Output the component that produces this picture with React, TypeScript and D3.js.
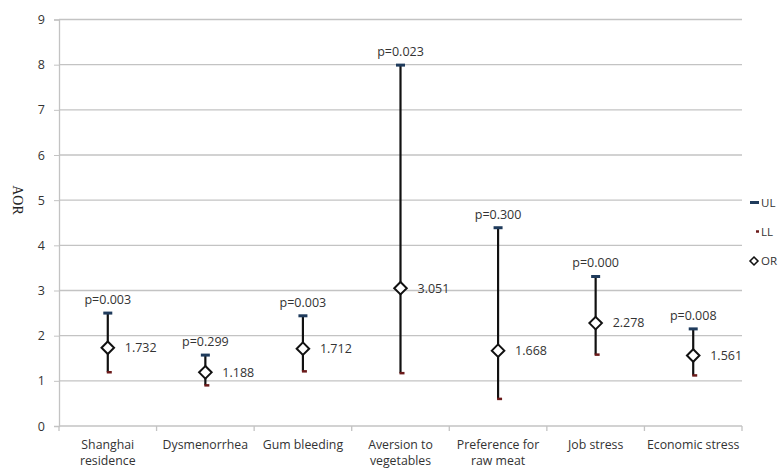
import * as d3 from "d3";
import React, { useRef, useEffect } from "react";

const categories = [
  ["Shanghai", "residence"],
  ["Dysmenorrhea"],
  ["Gum bleeding"],
  ["Aversion to", "vegetables"],
  ["Preference for", "raw meat"],
  ["Job stress"],
  ["Economic stress"],
];
const orValues = [1.732, 1.188, 1.712, 3.051, 1.668, 2.278, 1.561];
const upperLimits = [2.5, 1.57, 2.44, 7.99, 4.39, 3.31, 2.15];
const lowerLimits = [1.19, 0.9, 1.21, 1.17, 0.6, 1.58, 1.12];
const pValues = ["p=0.003", "p=0.299", "p=0.003", "p=0.023", "p=0.300", "p=0.000", "p=0.008"];
const yTicks = [0, 1, 2, 3, 4, 5, 6, 7, 8, 9];

const width = 779;
const height = 468;
const font = "'Open Sans', 'Noto Sans', sans-serif";

function App() {
  const ref = useRef<SVGSVGElement>(null);
  const margin = { top: 19.5, left: 59, right: 37, bottom: 42 };
  const innerWidth = width - margin.left - margin.right;
  const innerHeight = height - margin.top - margin.bottom;

  useEffect(() => {
    const svg = d3.select(ref.current);
    svg.selectAll("*").remove();

    const x = d3.scaleBand().domain(categories.map((_, i) => String(i))).range([0, innerWidth]);
    const y = d3.scaleLinear().domain([0, 9]).range([innerHeight, 0]);

    const g = svg.append("g").attr("transform", `translate(${margin.left},${margin.top})`);

    // grid
    g.selectAll(".grid")
      .data(yTicks.filter((t) => t > 0))
      .join("line")
      .attr("x1", 0)
      .attr("x2", innerWidth)
      .attr("y1", (d) => y(d))
      .attr("y2", (d) => y(d))
      .attr("stroke", "#c3c3c3")
      .attr("stroke-width", 1.3);

    // y axis
    const yAxis = g.append("g").call(d3.axisLeft(y).tickValues(yTicks).tickSize(5).tickPadding(9));
    yAxis.select(".domain").attr("stroke", "#c3c3c3").attr("stroke-width", 1.3);
    yAxis.selectAll(".tick line").attr("stroke", "#c3c3c3");
    yAxis.selectAll("text").attr("font-family", font).attr("font-size", 12.5).attr("fill", "#333");

    // x axis
    const xAxisG = g.append("g").attr("transform", `translate(0,${innerHeight})`);
    xAxisG
      .append("line")
      .attr("x1", 0)
      .attr("x2", innerWidth)
      .attr("stroke", "#c3c3c3")
      .attr("stroke-width", 1.3);
    xAxisG
      .selectAll(".xt")
      .data(d3.range(categories.length + 1))
      .join("line")
      .attr("x1", (i) => i * x.step())
      .attr("x2", (i) => i * x.step())
      .attr("y1", 0)
      .attr("y2", 5)
      .attr("stroke", "#c3c3c3")
      .attr("stroke-width", 1.3);
    const cx = (i: number) => (x(String(i)) as number) + x.bandwidth() / 2;
    xAxisG
      .selectAll(".xl")
      .data(categories)
      .join("text")
      .attr("x", (_, i) => cx(i))
      .attr("y", 23)
      .attr("text-anchor", "middle")
      .attr("font-family", font)
      .attr("font-size", 12.3)
      .attr("fill", "#333")
      .each(function (d) {
        d3.select(this)
          .selectAll("tspan")
          .data(d)
          .join("tspan")
          .attr("x", (this as any).getAttribute("x"))
          .attr("dy", (_, j) => (j === 0 ? 0 : 16))
          .text((t) => t);
      });

    // whiskers
    const idx = d3.range(categories.length);
    g.selectAll(".wh")
      .data(idx)
      .join("line")
      .attr("x1", cx)
      .attr("x2", cx)
      .attr("y1", (i) => y(upperLimits[i]))
      .attr("y2", (i) => y(lowerLimits[i]))
      .attr("stroke", "#111")
      .attr("stroke-width", 2.2);
    g.selectAll(".ul")
      .data(idx)
      .join("line")
      .attr("x1", (i) => cx(i) - 4.5)
      .attr("x2", (i) => cx(i) + 4.5)
      .attr("y1", (i) => y(upperLimits[i]))
      .attr("y2", (i) => y(upperLimits[i]))
      .attr("stroke", "#1f3b5c")
      .attr("stroke-width", 3);
    g.selectAll(".ll")
      .data(idx)
      .join("line")
      .attr("x1", (i) => cx(i) - 1)
      .attr("x2", (i) => cx(i) + 4)
      .attr("y1", (i) => y(lowerLimits[i]))
      .attr("y2", (i) => y(lowerLimits[i]))
      .attr("stroke", "#6b1a1a")
      .attr("stroke-width", 2.5);

    const diamond = d3.symbol().type(d3.symbolDiamond2).size(100);
    g.selectAll(".or")
      .data(idx)
      .join("path")
      .attr("d", diamond)
      .attr("transform", (i) => `translate(${cx(i)},${y(orValues[i])})`)
      .attr("fill", "#fff")
      .attr("stroke", "#111")
      .attr("stroke-width", 2);

    g.selectAll(".orl")
      .data(idx)
      .join("text")
      .attr("x", (i) => cx(i) + 17)
      .attr("y", (i) => y(orValues[i]))
      .attr("dy", "0.35em")
      .attr("font-family", font)
      .attr("font-size", 12.5)
      .attr("fill", "#333")
      .text((i) => orValues[i].toFixed(3));

    g.selectAll(".pl")
      .data(idx)
      .join("text")
      .attr("x", cx)
      .attr("y", (i) => y(upperLimits[i]) - 9)
      .attr("text-anchor", "middle")
      .attr("font-family", font)
      .attr("font-size", 12.5)
      .attr("fill", "#333")
      .text((i) => pValues[i]);

    // y title
    svg
      .append("text")
      .attr("transform", `translate(13,200) rotate(90)`)
      .attr("text-anchor", "middle")
      .attr("font-family", "'Liberation Serif', serif")
      .attr("font-size", 14)
      .attr("fill", "#222")
      .text("AOR");

    // legend
    const lg = svg.append("g").attr("transform", "translate(750,0)");
    lg.append("line").attr("x1", 0).attr("x2", 9).attr("y1", 202.5).attr("y2", 202.5).attr("stroke", "#1f3b5c").attr("stroke-width", 3);
    lg.append("line").attr("x1", 6).attr("x2", 9).attr("y1", 231.5).attr("y2", 231.5).attr("stroke", "#6b1a1a").attr("stroke-width", 2.5);
    lg.append("path")
      .attr("d", d3.symbol().type(d3.symbolDiamond2).size(40)())
      .attr("transform", "translate(4,261)")
      .attr("fill", "#fff")
      .attr("stroke", "#111")
      .attr("stroke-width", 1.6);
    lg.selectAll(".lt")
      .data([["UL", 202.5], ["LL", 231.5], ["OR", 261]])
      .join("text")
      .attr("x", 11)
      .attr("y", (d) => d[1] as number)
      .attr("dy", "0.35em")
      .attr("font-family", font)
      .attr("font-size", 11.5)
      .attr("fill", "#333")
      .text((d) => d[0] as string);
  }, []); // eslint-disable-line react-hooks/exhaustive-deps

  return (
    <svg ref={ref} width={width} height={height} style={{ position: "absolute", left: 0, top: 0, background: "#fff" }}></svg>
  );
}

export default App;
